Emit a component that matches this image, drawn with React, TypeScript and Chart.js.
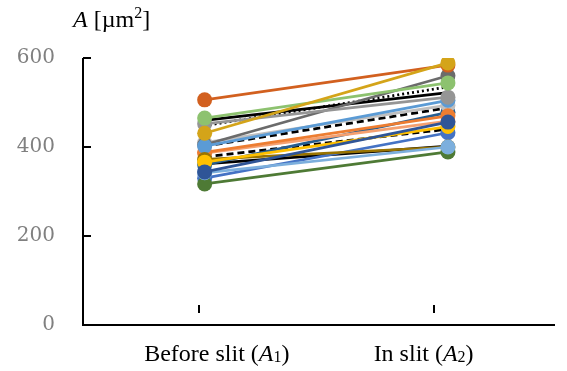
import React, { useEffect, useRef } from "react";
import { Chart, registerables } from "chart.js";

Chart.register(...registerables);

// ---- data ----
const CATEGORIES = ["Before slit", "In slit"];
const SUBSCRIPTS = ["1", "2"];
const Y_TICKS = [0, 200, 400, 600];
const Y_MIN = 0;
const Y_MAX = 600;

// area A1 (before slit) and A2 (in slit) per cell, μm²
const BEFORE = [460, 448, 402, 378, 362, 330, 360, 410, 386, 388, 405, 402, 452, 372, 366, 317, 342, 344, 465, 506, 431];
const IN_SLIT = [522, 535, 488, 440, 402, 432, 478, 494, 458, 470, 560, 505, 512, 400, 446, 389, 400, 456, 544, 584, 589];

// ---- styles (bottom → top) ----
const SERIES_STYLE = [
  { color: "#000000", dash: [], marker: false },
  { color: "#000000", dash: [2, 3], marker: false },
  { color: "#000000", dash: [7, 4], marker: false },
  { color: "#000000", dash: [7, 4], marker: false },
  { color: "#000000", dash: [], marker: false },
  { color: "#4472C4", dash: [], marker: true },
  { color: "#255E91", dash: [], marker: true },
  { color: "#BFBFBF", dash: [], marker: true },
  { color: "#F4A070", dash: [], marker: true },
  { color: "#ED7D31", dash: [], marker: true },
  { color: "#6B6B6B", dash: [], marker: true },
  { color: "#5B9BD5", dash: [], marker: true },
  { color: "#959595", dash: [], marker: true },
  { color: "#997300", dash: [], marker: true },
  { color: "#FFC000", dash: [], marker: true },
  { color: "#4E7A35", dash: [], marker: true },
  { color: "#7CAFDD", dash: [], marker: true },
  { color: "#2F5597", dash: [], marker: true },
  { color: "#8DC26F", dash: [], marker: true },
  { color: "#D2601F", dash: [], marker: true },
  { color: "#D4A419", dash: [], marker: true },
];

const X_POS = [1, 2];
const X_MIN = 0.5;
const X_MAX = 2.44;
const TICK_MARK_POS = [0.975, 1.942];
const LABEL_POS = [1.05, 1.9];

const SERIF = "'Liberation Serif', 'Times New Roman', serif";

type Run = { text: string; italic?: boolean; scale?: number; dy?: number };

function runFont(r: Run, size: number) {
  const s = Math.round(size * (r.scale ?? 1));
  return `${r.italic ? "italic " : ""}${s}px ${SERIF}`;
}

function drawRuns(ctx: CanvasRenderingContext2D, runs: Run[], x: number, baseline: number, size: number, align: "left" | "center") {
  let total = 0;
  for (const r of runs) {
    ctx.font = runFont(r, size);
    total += ctx.measureText(r.text).width;
  }
  let cx = align === "center" ? x - total / 2 : x;
  ctx.textAlign = "left";
  ctx.textBaseline = "alphabetic";
  for (const r of runs) {
    ctx.font = runFont(r, size);
    ctx.fillText(r.text, cx, baseline + (r.dy ?? 0));
    cx += ctx.measureText(r.text).width;
  }
}

const decorPlugin = {
  id: "decor",
  afterDraw(chart: any) {
    const { ctx, chartArea: a, scales } = chart;
    const x = scales.x;
    const y = scales.y;
    ctx.save();
    ctx.strokeStyle = "#000";
    ctx.lineWidth = 2;
    ctx.setLineDash([]);
    ctx.beginPath();
    ctx.moveTo(a.left, y.getPixelForValue(Y_MAX));
    ctx.lineTo(a.left, y.getPixelForValue(Y_MIN));
    ctx.lineTo(a.right, y.getPixelForValue(Y_MIN));
    for (const v of Y_TICKS) {
      if (v === Y_MIN) continue;
      const py = y.getPixelForValue(v);
      ctx.moveTo(a.left, py);
      ctx.lineTo(a.left + 8, py);
    }
    for (const p of TICK_MARK_POS) {
      const px = Math.round(x.getPixelForValue(p));
      ctx.moveTo(px, a.bottom - 20);
      ctx.lineTo(px, a.bottom - 12);
    }
    ctx.stroke();

    ctx.fillStyle = "#000";
    CATEGORIES.forEach((c, i) => {
      drawRuns(
        ctx,
        [
          { text: c + " (" },
          { text: "A", italic: true },
          { text: SUBSCRIPTS[i], scale: 0.68, dy: 1 },
          { text: ")" },
        ],
        x.getPixelForValue(LABEL_POS[i]),
        a.bottom + 36,
        24,
        "center"
      );
    });

    drawRuns(
      ctx,
      [
        { text: "A", italic: true },
        { text: " [µm" },
        { text: "2", scale: 0.65, dy: -9 },
        { text: "]" },
      ],
      73,
      27,
      24,
      "left"
    );
    ctx.restore();
  },
};

export default function App() {
  const ref = useRef<HTMLCanvasElement | null>(null);
  useEffect(() => {
    document.body.style.margin = "0";
    if (!ref.current) return;
    const datasets = SERIES_STYLE.map((s, i) => ({
      label: `Cell ${i + 1}`,
      data: X_POS.map((xv, k) => ({ x: xv, y: k === 0 ? BEFORE[i] : IN_SLIT[i] })),
      borderColor: s.color,
      backgroundColor: s.color,
      borderWidth: 2.75,
      borderDash: s.dash,
      pointRadius: s.marker ? 7.5 : 0,
      pointBorderWidth: 0,
      pointBackgroundColor: s.color,
      showLine: true,
      tension: 0,
    })).reverse();

    const chart = new Chart(ref.current, {
      type: "scatter",
      data: { datasets },
      options: {
        responsive: false,
        animation: false,
        events: [],
        layout: { padding: { top: 58, right: 12, bottom: 46, left: 0 } },
        plugins: { legend: { display: false }, tooltip: { enabled: false } },
        scales: {
          x: { type: "linear", display: false, min: X_MIN, max: X_MAX },
          y: {
            min: Y_MIN,
            max: Y_MAX,
            afterFit: (s: any) => {
              s.width = 83;
            },
            afterBuildTicks: (s: any) => {
              s.ticks = Y_TICKS.map((v) => ({ value: v }));
            },
            grid: { display: false, drawTicks: false },
            border: { display: false },
            ticks: {
              padding: 28,
              color: "#808080",
              font: { family: "'DejaVu Serif', serif", size: 20 },
            },
          },
        },
      },
      plugins: [decorPlugin],
    });
    return () => chart.destroy();
  }, []);
  return (
    <div style={{ width: 567, height: 371 }}>
      <canvas ref={ref} width={567} height={371} />
    </div>
  );
}
